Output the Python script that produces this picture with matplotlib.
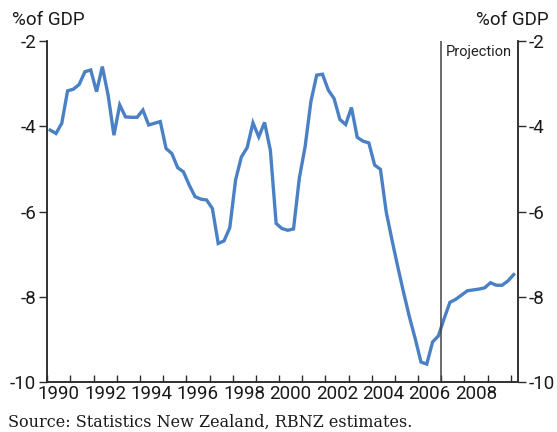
import matplotlib
matplotlib.use("Agg")
import matplotlib.pyplot as plt
import numpy as np

# Current account balance, % of GDP, quarterly 1990Q1 - 2010Q1
start_year = 1990
current_account = [
    -4.09, -4.17, -3.93, -3.17, -3.13, -3.02, -2.72, -2.68,
    -3.19, -2.60, -3.27, -4.21, -3.50, -3.78, -3.79, -3.79,
    -3.62, -3.97, -3.93, -3.89, -4.52, -4.64, -4.97, -5.07,
    -5.38, -5.65, -5.71, -5.73, -5.93, -6.75, -6.69, -6.38,
    -5.26, -4.72, -4.50, -3.92, -4.25, -3.91, -4.56, -6.28,
    -6.40, -6.44, -6.41, -5.22, -4.48, -3.42, -2.80, -2.78,
    -3.15, -3.35, -3.84, -3.96, -3.56, -4.26, -4.35, -4.39,
    -4.91, -5.01, -6.01, -6.67, -7.30, -7.90, -8.47, -8.98,
    -9.53, -9.58, -9.06, -8.92, -8.51, -8.13, -8.06, -7.96,
    -7.86, -7.84, -7.82, -7.79, -7.67, -7.73, -7.73, -7.63,
    -7.48,
]
projection_start = 2007.0
year_labels = [str(y) for y in range(1990, 2010, 2)]
y_ticks = [-2, -4, -6, -8, -10]
unit_label = "%of GDP"
source_text = "Source: Statistics New Zealand, RBNZ estimates."

sans = ["Roboto", "DejaVu Sans"]
plt.rcParams["font.family"] = sans
fs = 13.5

# quarter mid-points
x = start_year + 0.125 + 0.25 * np.arange(len(current_account))

fig = plt.figure(figsize=(5.57, 4.32), dpi=100)
ax = fig.add_axes([0.0849, 0.1157, 0.8446, 0.7894])

line_col = "#4a80c4"
axis_col = "#2b2b2b"
text_col = "#1a1a1a"

ax.plot(x, current_account, color=line_col, lw=2.4, solid_joinstyle="miter")
ax.axvline(projection_start, color="#444444", lw=1.1)
ax.text(projection_start + 0.2, -2.25, "Projection", fontsize=10.5,
        ha="left", va="center", color="#222222")

ax.set_xlim(1990, 2010.3)
ax.set_ylim(-10, -2)

# year boundaries as ticks, labels centred on the year
ax.set_xticks(np.arange(1990, 2011))
ax.set_xticklabels([])
ax.set_xticks([int(l) + 0.5 for l in year_labels], minor=True)
ax.set_xticklabels(year_labels, minor=True)
ax.tick_params(axis="x", which="major", direction="in", length=5,
               width=1.0, color=axis_col)
ax.tick_params(axis="x", which="minor", length=0, pad=2, labelsize=fs,
               labelcolor=text_col)

ax.set_yticks(y_ticks)
ax.set_yticklabels([str(v) for v in y_ticks])
ax.tick_params(axis="y", direction="out", length=6, width=1.0,
               color=axis_col, labelsize=fs, pad=2, labelcolor=text_col)

ax2 = ax.twinx()
ax2.set_ylim(-10, -2)
ax2.set_yticks(y_ticks)
ax2.set_yticklabels([str(v) for v in y_ticks])
ax2.tick_params(axis="y", direction="out", length=6, width=1.0,
                color=axis_col, labelsize=fs, pad=2, labelcolor=text_col)

for a in (ax, ax2):
    a.spines["top"].set_visible(False)
    for s in ("left", "right", "bottom"):
        a.spines[s].set_color(axis_col)
        a.spines[s].set_linewidth(1.1)

fig.text(0.022, 0.953, unit_label, fontsize=fs, ha="left", va="center",
         color=text_col)
fig.text(0.985, 0.953, unit_label, fontsize=fs, ha="right", va="center",
         color=text_col)
fig.text(0.014, 0.023, source_text, fontsize=11.5, ha="left", va="center",
         family=["DejaVu Serif"], color=text_col)

fig.savefig("out.png", dpi=100)
